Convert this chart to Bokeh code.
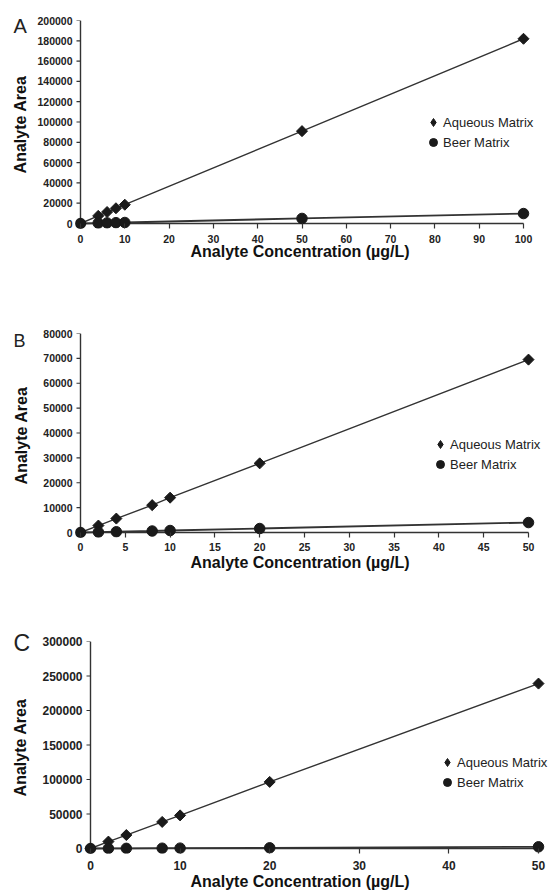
from bokeh.plotting import figure
from bokeh.layouts import column
from bokeh.models import (FixedTicker, Legend, LegendItem, Range1d,
                          BasicTickFormatter, Title)
from bokeh.embed import file_html
from bokeh.resources import INLINE

# ---------------- data ----------------
conc_A = [0, 4, 6, 8, 10, 50, 100]
aqueous_A = [0, 7500, 11300, 15000, 18500, 91000, 182000]
beer_A = [0, 400, 600, 800, 1000, 5000, 9800]

conc_B = [0, 2, 4, 8, 10, 20, 50]
aqueous_B = [0, 2800, 5600, 11000, 14000, 27800, 69500]
beer_B = [0, 150, 300, 600, 800, 1600, 4000]

conc_C = [0, 2, 4, 8, 10, 20, 50]
aqueous_C = [0, 10000, 19500, 38500, 48000, 96500, 239000]
beer_C = [0, 100, 200, 400, 500, 1000, 2500]

xticks_A = list(range(0, 101, 10))
yticks_A = list(range(0, 200001, 20000))
xticks_B = list(range(0, 51, 5))
yticks_B = list(range(0, 80001, 10000))
xticks_C = list(range(0, 51, 10))
yticks_C = list(range(0, 300001, 50000))

series_names = ["Aqueous Matrix", "Beer Matrix"]
x_title = "Analyte Concentration (µg/L)"
y_title = "Analyte Area"

FONT = "Liberation Sans"
W = 551
L = 75          # common left border of every frame
PAD = 5         # gap below the x axis line
TICK = 4
AX = "#333333"
MK = "#1a1a1a"
XTITLE_LEFT = 190


def panel(letter, conc, aq, beer, xticks, yticks, H,
          fx0, fx1, fytop, fy0, tick_fs, legend_xy, letter_fs, letter_xy,
          ylab_standoff, xtick_standoff, xtitle_standoff):
    xmax, ymax = xticks[-1], yticks[-1]
    sx = (fx1 - fx0) / xmax
    sy = (fy0 - fytop) / ymax
    frame_bottom = fy0 + PAD
    p = figure(width=W, height=H, output_backend="svg", toolbar_location=None,
               x_range=Range1d(-(fx0 - L) / sx, xmax + (W - fx1) / sx),
               y_range=Range1d(-PAD / sy, ymax),
               min_border_left=L, min_border_right=0,
               min_border_top=fytop, min_border_bottom=H - frame_bottom)
    p.outline_line_color = None
    p.xgrid.visible = False
    p.ygrid.visible = False

    # axis lines through the origin, and y tick marks
    p.segment(x0=[xticks[0]], y0=[yticks[0]], x1=[xticks[-1]], y1=[yticks[0]],
              line_color=AX, line_width=1.4)
    p.segment(x0=[xticks[0]], y0=[yticks[0]], x1=[xticks[0]], y1=[yticks[-1]],
              line_color=AX, line_width=1.4)
    p.segment(x0=[xticks[0] - TICK / sx] * len(yticks), y0=yticks,
              x1=[xticks[0]] * len(yticks), y1=yticks,
              line_color=AX, line_width=1.2)

    p.line(conc, aq, line_color="#333333", line_width=1.4)
    p.line(conc, beer, line_color="#333333", line_width=1.8)
    # small diamonds (hidden under the tilted squares) give the legend glyph
    r_aq_leg = p.scatter(conc, aq, marker="diamond", size=8,
                         fill_color=MK, line_color=MK)
    p.scatter(conc, aq, marker="square", angle=0.785398, size=7.8,
              fill_color=MK, line_color=MK)
    r_beer = p.scatter(conc, beer, marker="circle", size=10.5,
                       fill_color=MK, line_color=MK)

    for ax, ticks in ((p.xaxis, xticks), (p.yaxis, yticks)):
        ax.ticker = FixedTicker(ticks=ticks)
        ax.formatter = BasicTickFormatter(use_scientific=False)
        ax.minor_tick_line_color = None
        ax.axis_line_color = None
        ax.major_tick_out = 0
        ax.major_tick_line_color = AX
        ax.major_tick_line_width = 1.2
        ax.major_label_text_font = FONT
        ax.major_label_text_font_style = "bold"
        ax.major_label_text_font_size = tick_fs
        ax.major_label_text_color = "#222222"
    p.xaxis.major_tick_in = PAD
    p.yaxis.major_tick_in = 0
    p.yaxis.major_tick_line_color = None
    # tick labels end 8px left of the y axis line
    p.yaxis.major_label_standoff = L - (fx0 - 8)
    p.xaxis.major_label_standoff = xtick_standoff

    p.yaxis.axis_label = y_title
    p.yaxis.axis_label_standoff = ylab_standoff
    p.yaxis.axis_label_text_font = FONT
    p.yaxis.axis_label_text_font_style = "bold"
    p.yaxis.axis_label_text_font_size = "16px"
    p.yaxis.axis_label_text_color = "#111111"

    # x axis title, placed below the tick labels
    p.add_layout(Title(text=x_title, align="left", vertical_align="top",
                       offset=XTITLE_LEFT - L, standoff=xtitle_standoff,
                       text_font=FONT, text_font_style="bold",
                       text_font_size="16px", text_color="#111111"), "below")

    # legend (legend_xy = figure coords of first marker centre)
    gx, gy = legend_xy
    leg = Legend(items=[LegendItem(label=series_names[0], renderers=[r_aq_leg]),
                        LegendItem(label=series_names[1], renderers=[r_beer])],
                 location=(gx - 10 - L, frame_bottom - (gy - 10 + 40)),
                 glyph_width=20, glyph_height=20, label_height=20,
                 label_standoff=0, spacing=0, padding=0, margin=0,
                 border_line_color=None, background_fill_alpha=0,
                 label_text_font=FONT, label_text_font_size="13px",
                 label_text_color="#222222")
    p.add_layout(leg)

    # panel letter via the title (drawn below the top border, left of the axis)
    lx, lbottom = letter_xy
    p.title.text = letter
    p.title.text_font = FONT
    p.title.text_font_style = "normal"
    p.title.text_font_size = letter_fs
    p.title.text_color = "#222222"
    p.title.align = "left"
    p.title.vertical_align = "bottom"
    p.title.offset = lx - L
    p.title.standoff = -2 * (lbottom - fytop)
    return p


# figure coordinates (relative to each figure's top-left corner)
pA = panel("A", conc_A, aqueous_A, beer_A, xticks_A, yticks_A,
           270, 80, 523, 20, 223, "10.5px", (433, 122), "20px", (13, 36),
           5, 6, -6)
pB = panel("B", conc_B, aqueous_B, beer_B, xticks_B, yticks_B,
           305, 80, 528, 63, 262, "10.5px", (440, 174), "18px", (13, 80),
           10, 5, 0)
pC = panel("C", conc_C, aqueous_C, beer_C, xticks_C, yticks_C,
           318, 90, 538, 66, 273, "12px", (447, 187), "23px", (13, 80),
           10, 7, 0)

layout = column(pA, pB, pC, spacing=0)
open("out.html", "w").write(file_html(layout, INLINE))
